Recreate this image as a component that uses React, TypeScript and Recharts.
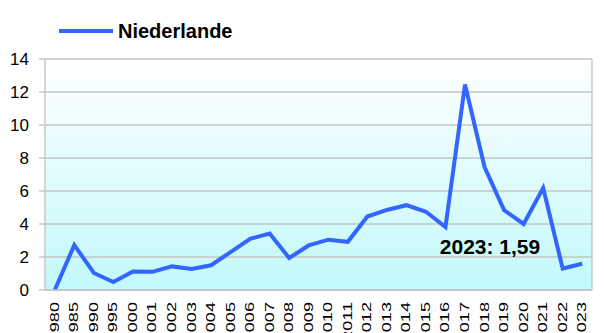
import {
  CartesianGrid,
  LabelList,
  Legend,
  Line,
  LineChart,
  ReferenceLine,
  XAxis,
  YAxis,
} from "recharts";

const years = [
  "1980", "1985", "1990", "1995", "2000", "2001", "2002", "2003", "2004", "2005",
  "2006", "2007", "2008", "2009", "2010", "2011", "2012", "2013", "2014", "2015",
  "2016", "2017", "2018", "2019", "2020", "2021", "2022", "2023",
];

const niederlande = [
  0, 2.72, 1.03, 0.48, 1.12, 1.1, 1.43, 1.27, 1.5, 2.3,
  3.1, 3.42, 1.94, 2.7, 3.05, 2.92, 4.45, 4.85, 5.14, 4.74,
  3.82, 12.45, 7.45, 4.84, 4.0, 6.18, 1.3, 1.59,
];

const yTicks = [0, 2, 4, 6, 8, 10, 12, 14];

const seriesName = "Niederlande";
const lineColor = "#3366ff";
const gridColor = "#c4c4c4";
const font = "'Liberation Sans', Arial, sans-serif";

// each year sits in the middle of its slot; slot edges carry the tick marks
const data = years.map((year, i) => ({ pos: i + 0.5, year, value: niederlande[i] }));
const slotEdges = years.map((_, i) => i).concat(years.length);

function YearTick({ x, y, payload }: { x: number; y: number; payload: { value: number } }) {
  const year = years[Math.floor(payload.value)];
  return (
    <text
      transform={`translate(${x + 4}, ${y + 11}) rotate(-90) scale(1.45, 1)`}
      textAnchor="end"
      fontSize={12.5}
      fontFamily={font}
      fill="#000"
    >
      {year}
    </text>
  );
}

function LastValueLabel(props: any) {
  const { x, y, index } = props;
  if (index !== data.length - 1) return null;
  const last = data[index];
  const text = `${last.year}: ${last.value.toFixed(2).replace(".", ",")}`;
  return (
    <text x={x - 42} y={y - 10} textAnchor="end" fontSize={21} fontWeight="bold" fontFamily={font} fill="#000">
      {text}
    </text>
  );
}

function SeriesLegend() {
  return (
    <svg width={300} height={47} style={{ display: "block" }}>
      <line x1={59} x2={113} y1={19} y2={19} stroke={lineColor} strokeWidth={4} />
      <text x={118} y={26} fontSize={20} fontWeight="bold" fontFamily={font} fill="#000">
        {seriesName}
      </text>
    </svg>
  );
}

export default function App() {
  return (
    <div style={{ position: "absolute", left: 0, top: 0, width: 604, height: 333, overflow: "hidden", background: "#fff" }}>
      <LineChart width={604} height={333} data={data} margin={{ top: 12, right: 12, bottom: 0, left: 0 }}>
        <defs>
          <linearGradient id="plot-bg" x1="0" x2="0" y1="0" y2="1">
            <stop offset="0%" stopColor="#ffffff" />
            <stop offset="100%" stopColor="#c2f9fb" />
          </linearGradient>
        </defs>
        <Legend verticalAlign="top" align="left" height={47} content={<SeriesLegend />} />
        <CartesianGrid
          xAxisId="years"
          vertical={false}
          stroke={gridColor}
          strokeWidth={1.4}
          fill="url(#plot-bg)"
          fillOpacity={1}
        />
        <XAxis
          xAxisId="marks"
          type="number"
          dataKey="pos"
          domain={[0, years.length]}
          ticks={slotEdges}
          height={1}
          tick={false}
          tickSize={5}
          tickLine={{ stroke: gridColor, strokeWidth: 1.4 }}
          axisLine={{ stroke: gridColor, strokeWidth: 1.4 }}
          allowDataOverflow
        />
        <XAxis
          xAxisId="years"
          type="number"
          dataKey="pos"
          domain={[0, years.length]}
          ticks={data.map((d) => d.pos)}
          interval={0}
          height={42}
          tickLine={false}
          tickSize={0}
          tickMargin={0}
          axisLine={false}
          tick={YearTick}
          allowDataOverflow
        />
        <YAxis
          domain={[0, 14]}
          ticks={yTicks}
          width={45}
          tickSize={6}
          tickMargin={10}
          tick={{ fontSize: 17, fill: "#000", fontFamily: font }}
          tickLine={{ stroke: gridColor, strokeWidth: 1.4 }}
          axisLine={{ stroke: gridColor, strokeWidth: 1.4 }}
        />
        <ReferenceLine xAxisId="years" x={years.length} stroke={gridColor} strokeWidth={1.4} />
        <Line
          xAxisId="years"
          type="linear"
          dataKey="value"
          name={seriesName}
          stroke={lineColor}
          strokeWidth={4}
          dot={false}
          activeDot={false}
          isAnimationActive={false}
        >
          <LabelList dataKey="value" content={LastValueLabel} />
        </Line>
      </LineChart>
    </div>
  );
}
